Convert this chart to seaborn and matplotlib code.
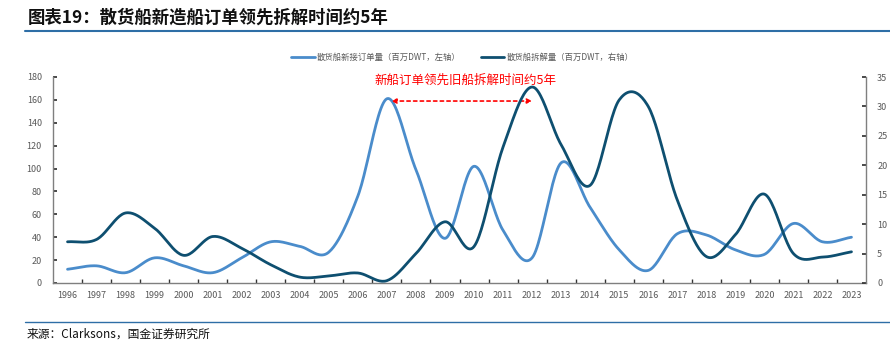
import numpy as np
import pandas as pd
import matplotlib
matplotlib.use("Agg")
import matplotlib.pyplot as plt
import seaborn as sns
from matplotlib.lines import Line2D

sns.set_theme(style="white")
plt.rcParams['font.family'] = ['Noto Sans CJK SC', 'DejaVu Sans']

years = list(range(1996, 2024))
new_orders = [12, 15, 9, 22, 15, 9, 22, 36, 32, 27, 76, 161, 99, 39, 102, 46, 22, 105,
              66, 29, 11, 43, 42, 29, 25, 52, 36, 40]
demolition = [7.0, 7.4, 11.9, 9.3, 4.7, 7.9, 5.9, 3.1, 1.0, 1.2, 1.7, 0.4, 5.0, 10.4,
              6.2, 23.1, 33.3, 23.5, 16.6, 31.1, 30.0, 14.1, 4.5, 8.2, 15.1, 5.0, 4.4, 5.3]
label_orders = "散货船新接订单量（百万DWT，左轴）"
label_demo = "散货船拆解量（百万DWT，右轴）"
title = "图表19：散货船新造船订单领先拆解时间约5年"
note = "新船订单领先旧船拆解时间约5年"
source = "来源：Clarksons，国金证券研究所"

c_light = "#4a8ccb"
c_dark = "#0e4f70"
grey = "#595959"


def smooth(xs, ys, n=24):
    xs = np.asarray(xs, float)
    ys = np.asarray(ys, float)
    px = np.concatenate([[2 * xs[0] - xs[1]], xs, [2 * xs[-1] - xs[-2]]])
    py = np.concatenate([[2 * ys[0] - ys[1]], ys, [2 * ys[-1] - ys[-2]]])
    ox, oy = [], []
    for i in range(1, len(px) - 2):
        t = np.linspace(0, 1, n, endpoint=False)
        for arr, out in ((px, ox), (py, oy)):
            p0, p1, p2, p3 = arr[i - 1], arr[i], arr[i + 1], arr[i + 2]
            out.extend(0.5 * ((2 * p1) + (-p0 + p2) * t + (2 * p0 - 5 * p1 + 4 * p2 - p3) * t ** 2
                              + (-p0 + 3 * p1 - 3 * p2 + p3) * t ** 3))
    ox.append(xs[-1]); oy.append(ys[-1])
    return pd.DataFrame({"x": ox, "y": oy})


fig = plt.figure(figsize=(8.9, 3.47), dpi=100)
ax = fig.add_axes([53 / 890, 1 - 283 / 347, (866 - 53) / 890, (283 - 77) / 347])
ax2 = ax.twinx()

d1 = smooth(years, new_orders)
d2 = smooth(years, demolition)
sns.lineplot(data=d1, x="x", y="y", ax=ax, color=c_light, lw=2.0, sort=False, estimator=None)
sns.lineplot(data=d2, x="x", y="y", ax=ax2, color=c_dark, lw=2.0, sort=False, estimator=None)

ax.set_xlim(1995.5, 2023.5)
ax.set_ylim(0, 180)
ax2.set_ylim(0, 35)
ax.set_yticks(range(0, 181, 20))
ax2.set_yticks(range(0, 36, 5))
ax.set_xticks(years)
ax.set_xticklabels([str(y) for y in years])
ax.set_xticks(np.arange(1996.5, 2023.5, 1), minor=True)
ax.set_xlabel(""); ax.set_ylabel(""); ax2.set_xlabel(""); ax2.set_ylabel("")

for a in (ax, ax2):
    a.grid(False)
    a.spines['top'].set_visible(False)
    for s in a.spines.values():
        s.set_color("#7f7f7f")
        s.set_linewidth(1.0)
ax.spines['right'].set_visible(False)
ax2.spines['left'].set_visible(False)
ax2.spines['bottom'].set_visible(False)

ax.tick_params(axis='x', which='major', length=0, labelsize=6.5, labelcolor=grey, pad=6)
ax.tick_params(axis='x', which='minor', length=3, direction='in', color="#333333", bottom=True)
ax.tick_params(axis='y', length=3, direction='in', left=True, labelsize=6.5, labelcolor=grey,
               color="#333333", pad=8)
ax2.tick_params(axis='y', length=3, direction='in', right=True, labelsize=6.5, labelcolor=grey,
                color="#333333", pad=8)

handles = [Line2D([], [], color=c_light, lw=2), Line2D([], [], color=c_dark, lw=2)]
fig.legend(handles, [label_orders, label_demo], loc='center left',
           bbox_to_anchor=(288 / 890, 1 - 57 / 347), borderaxespad=0,
           ncol=2, frameon=False, fontsize=6.0, labelcolor=grey, handlelength=2.8,
           handletextpad=0.3, columnspacing=2.4)

ax.annotate("", xy=(2007.15, 159), xytext=(2012.0, 159),
            arrowprops=dict(arrowstyle='<|-|>', color='red', lw=1.2, linestyle=(0, (2, 2)),
                            mutation_scale=7, shrinkA=0, shrinkB=0))
ax.text(2009.7, 177, note, color='red', fontsize=9, ha='center', va='center')

fig.text(28 / 890, 1 - 18 / 347, title, fontsize=12.5, fontweight='bold', ha='left', va='center',
         color="#111111", style='italic')
fig.add_artist(Line2D([25 / 890, 1.0], [1 - 31 / 347] * 2, color="#2e6ea6", lw=1.5))
fig.add_artist(Line2D([25 / 890, 1.0], [1 - 322 / 347] * 2, color="#2e6ea6", lw=1.0))
fig.text(27 / 890, 1 - 334 / 347, source, fontsize=8.5, ha='left', va='center', color="#111111")

fig.savefig("out.png", dpi=100)
